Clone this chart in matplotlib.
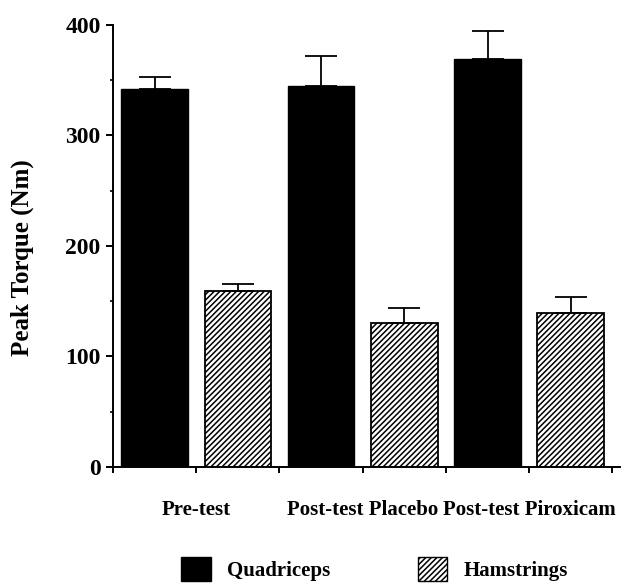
import matplotlib
matplotlib.use("Agg")
import matplotlib.pyplot as plt
from matplotlib.patches import Patch
from matplotlib.ticker import MultipleLocator
import numpy as np

# data
groups = ["Pre-test", "Post-test Placebo", "Post-test Piroxicam"]
quad_means = [342, 345, 369]
quad_err = [11, 27, 26]
ham_means = [159, 130, 139]
ham_err = [7, 14, 15]

plt.rcParams['font.family'] = ['Liberation Serif', 'DejaVu Serif']
plt.rcParams['font.weight'] = 'bold'
plt.rcParams['hatch.linewidth'] = 1.1

fig = plt.figure(figsize=(6.32, 5.85), dpi=100)
ax = fig.add_axes([0.1788, 0.2017, 0.802, 0.7556])

centers = np.arange(len(groups)) * 2 + 1
width = 0.8

ax.bar(centers - 0.5, quad_means, width, color='black', edgecolor='black', linewidth=1.0,
       yerr=[np.zeros(len(quad_err)), quad_err], capsize=11.5,
       error_kw=dict(ecolor='black', elinewidth=1.3, capthick=1.3))
ax.bar(centers + 0.5, ham_means, width, color='white', edgecolor='black', linewidth=1.3,
       hatch='//////',
       yerr=[np.zeros(len(ham_err)), ham_err], capsize=11.5,
       error_kw=dict(ecolor='black', elinewidth=1.3, capthick=1.3))

ax.set_xlim(0, 6.09)
ax.set_ylim(0, 400)
ax.set_xticks(np.arange(0, 7))
ax.set_xticklabels([])
ax.yaxis.set_major_locator(MultipleLocator(100))
ax.yaxis.set_minor_locator(MultipleLocator(50))

ax.spines['top'].set_visible(False)
ax.spines['right'].set_visible(False)
ax.spines['left'].set_linewidth(1.4)
ax.spines['bottom'].set_linewidth(1.4)
ax.tick_params(axis='y', which='major', direction='out', length=5, width=1.4,
               labelsize=17, pad=4)
ax.tick_params(axis='y', which='minor', direction='out', length=2.5, width=1.2)
ax.tick_params(axis='x', which='major', direction='out', length=4, width=1.4)

for c, name in zip(centers, groups):
    ax.text(c, -0.097, name, transform=ax.get_xaxis_transform(),
            ha='center', va='center', fontsize=15, fontweight='bold')

ax.set_ylabel('Peak Torque (Nm)', fontsize=18, fontweight='bold')
ax.yaxis.set_label_coords(-0.155, 0.473)

handles = [Patch(facecolor='black', edgecolor='black'),
           Patch(facecolor='white', edgecolor='black', hatch='//////')]
fig.legend(handles, ['Quadriceps', 'Hamstrings'], loc='center',
           bbox_to_anchor=(0.593, 0.027), ncol=2, frameon=False,
           handlelength=1.4, handleheight=1.35, handletextpad=0.8,
           columnspacing=4.2, prop={'size': 15, 'weight': 'bold'})

fig.savefig('out.png', dpi=100)
